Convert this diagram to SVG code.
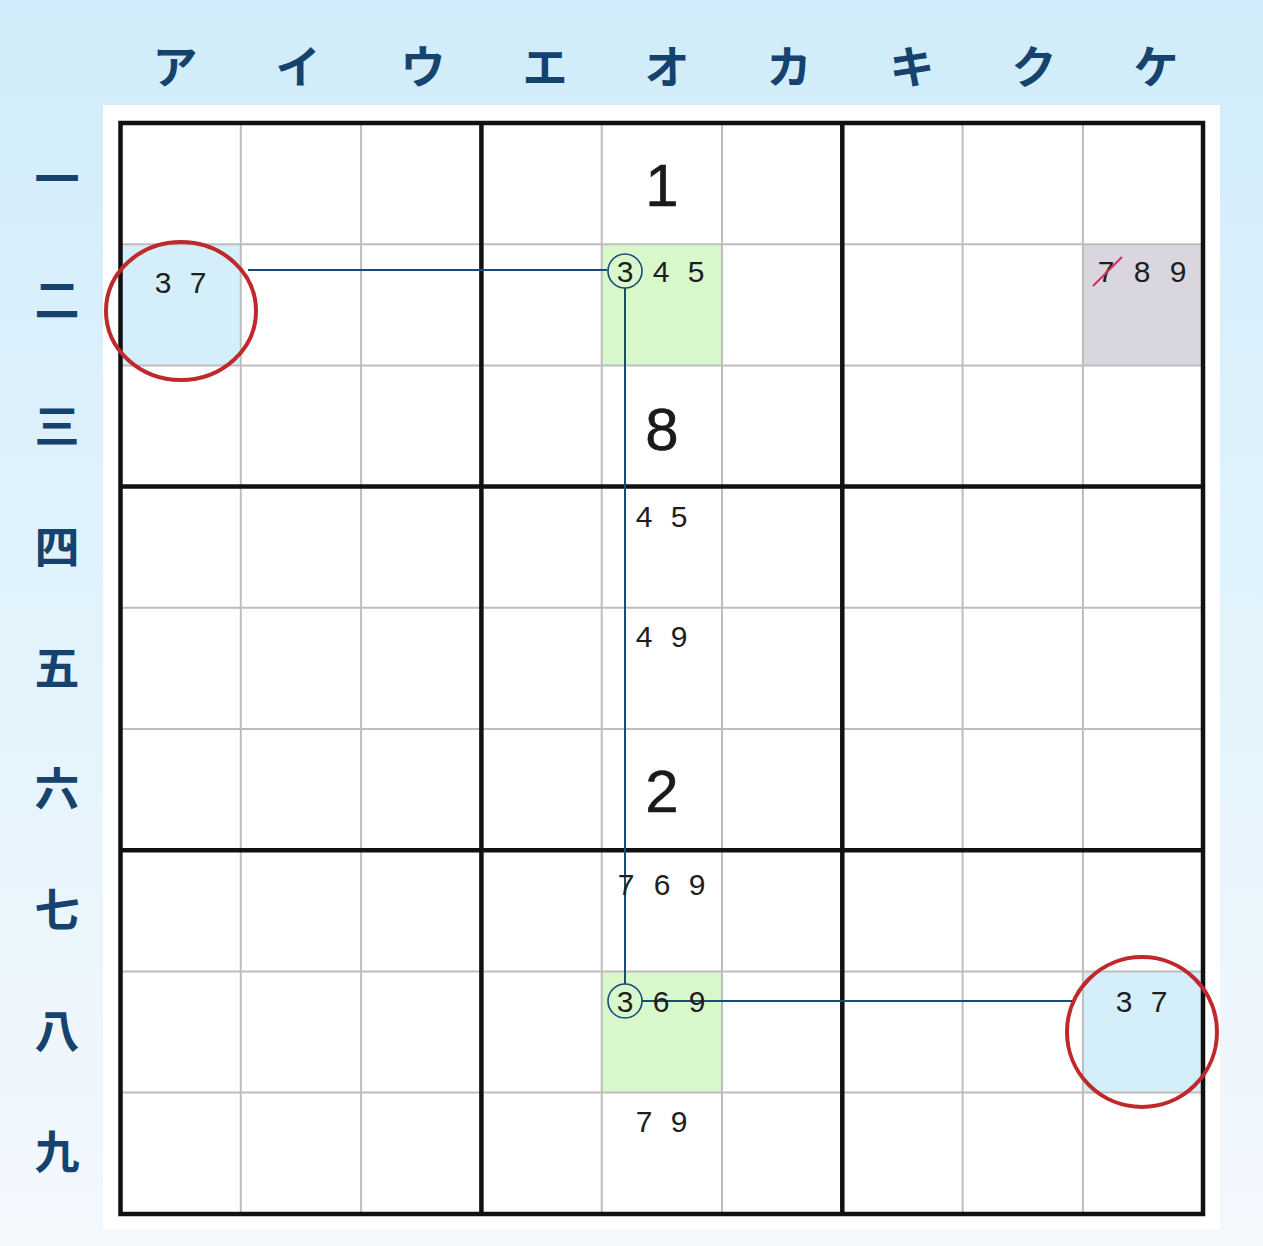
<svg xmlns="http://www.w3.org/2000/svg" width="1263" height="1246" viewBox="0 0 1263 1246">
<defs>
<linearGradient id="bg" x1="0" y1="0" x2="0" y2="1">
<stop offset="0" stop-color="#d0ecfa"/>
<stop offset="0.5" stop-color="#e2f3fc"/>
<stop offset="1" stop-color="#f3f8fc"/>
</linearGradient>
<filter id="sh" x="-10%" y="-10%" width="120%" height="130%">
<feGaussianBlur stdDeviation="8"/>
</filter>
<style>
.lbl{font-family:"Noto Sans CJK JP","Noto Sans",sans-serif;font-weight:700;font-size:45px;fill:#16426e;text-anchor:middle}
.cand{font-family:"Liberation Sans",Arial,sans-serif;font-size:30px;fill:#1e1e1e;text-anchor:middle}
.big{font-family:"Liberation Sans",Arial,sans-serif;font-size:60px;fill:#1a1a1a;text-anchor:middle;stroke:#1a1a1a;stroke-width:0.6}
.thin{stroke:#bdbdbd;stroke-width:2;fill:none}
.thick{stroke:#111;stroke-width:4.5;fill:none}
.conn{stroke:#1b4a78;stroke-width:2;fill:none}
.ring{stroke:#1b4a78;stroke-width:1.6;fill:none}
.red{stroke:#c0292b;stroke-width:4;fill:none}
.blue{fill:#d4eefa}
.green{fill:#d8f8cc}
.grey{fill:#d9d6e0}
</style>
</defs>
<rect x="0" y="0" width="1263" height="1246" fill="url(#bg)"/>
<rect x="140" y="1192" width="1050" height="30" fill="#9a9a9a" opacity="0.5" filter="url(#sh)"/>
<rect x="103" y="105" width="1117" height="1124" fill="#ffffff"/>

<g id="col-labels">
<text class="lbl" x="175" y="84">ア</text>
<text class="lbl" x="298" y="84">イ</text>
<text class="lbl" x="423" y="84">ウ</text>
<text class="lbl" x="545" y="84">エ</text>
<text class="lbl" x="667" y="84">オ</text>
<text class="lbl" x="789" y="84">カ</text>
<text class="lbl" x="912" y="84">キ</text>
<text class="lbl" x="1034" y="84">ク</text>
<text class="lbl" x="1156" y="84">ケ</text>
</g>
<g id="row-labels">
<text class="lbl" x="57" y="196">一</text>
<text class="lbl" x="57" y="317">二</text>
<text class="lbl" x="57" y="443">三</text>
<text class="lbl" x="57" y="564">四</text>
<text class="lbl" x="57" y="685">五</text>
<text class="lbl" x="57" y="806">六</text>
<text class="lbl" x="57" y="927">七</text>
<text class="lbl" x="57" y="1048">八</text>
<text class="lbl" x="57" y="1169">九</text>
</g>

<g id="highlights">
<rect class="blue" x="121" y="244" width="120" height="121"/>
<rect class="green" x="602" y="244" width="120" height="121"/>
<rect class="grey" x="1083" y="244" width="120" height="121"/>
<rect class="green" x="602" y="971" width="120" height="121"/>
<rect class="blue" x="1083" y="971" width="120" height="121"/>
</g>

<g id="grid">
<path class="thin" d="M240.8 123V1214M361.1 123V1214M601.7 123V1214M722 123V1214M962.6 123V1214M1082.9 123V1214M120.5 244.2H1203M120.5 365.4H1203M120.5 607.8H1203M120.5 729H1203M120.5 971.4H1203M120.5 1092.6H1203"/>
<path class="thick" d="M481.4 123V1214M842.3 123V1214M120.5 486.6H1203M120.5 850.2H1203"/>
<rect class="thick" x="120.5" y="123" width="1082.5" height="1091"/>
</g>

<g id="givens">
<text class="big" x="662" y="206">1</text>
<text class="big" x="662" y="450">8</text>
<text class="big" x="662" y="812">2</text>
</g>

<g id="connectors">
<path class="conn" d="M248 270H607"/>
<path class="conn" d="M625 288V984"/>
<path class="conn" d="M642 1001H1075"/>
</g>

<g id="cell-a2">
<text class="cand" x="163" y="293">3</text>
<text class="cand" x="198" y="293">7</text>
</g>
<g id="cell-o2">
<circle class="ring" cx="625" cy="271" r="17"/>
<text class="cand" x="625" y="282">3</text>
<text class="cand" x="661" y="282">4</text>
<text class="cand" x="696" y="282">5</text>
</g>
<g id="cell-ke2">
<text class="cand" x="1106" y="282">7</text>
<text class="cand" x="1142" y="282">8</text>
<text class="cand" x="1178" y="282">9</text>
<path d="M1093 286L1122 257" stroke="#d2336a" stroke-width="2.2" fill="none"/>
</g>
<g id="cell-o4">
<text class="cand" x="644" y="527">4</text>
<text class="cand" x="679" y="527">5</text>
</g>
<g id="cell-o5">
<text class="cand" x="644" y="647">4</text>
<text class="cand" x="679" y="647">9</text>
</g>
<g id="cell-o7">
<text class="cand" x="626" y="895">7</text>
<text class="cand" x="662" y="895">6</text>
<text class="cand" x="697" y="895">9</text>
</g>
<g id="cell-o8">
<circle class="ring" cx="625" cy="1001" r="17"/>
<text class="cand" x="625" y="1012">3</text>
<text class="cand" x="661" y="1012">6</text>
<text class="cand" x="697" y="1012">9</text>
</g>
<g id="cell-ke8">
<text class="cand" x="1124" y="1012">3</text>
<text class="cand" x="1159" y="1012">7</text>
</g>
<g id="cell-o9">
<text class="cand" x="644" y="1132">7</text>
<text class="cand" x="679" y="1132">9</text>
</g>

<g id="red-circles">
<ellipse class="red" cx="181" cy="311" rx="75" ry="69"/>
<ellipse class="red" cx="1142" cy="1032" rx="75" ry="75"/>
</g>
</svg>
